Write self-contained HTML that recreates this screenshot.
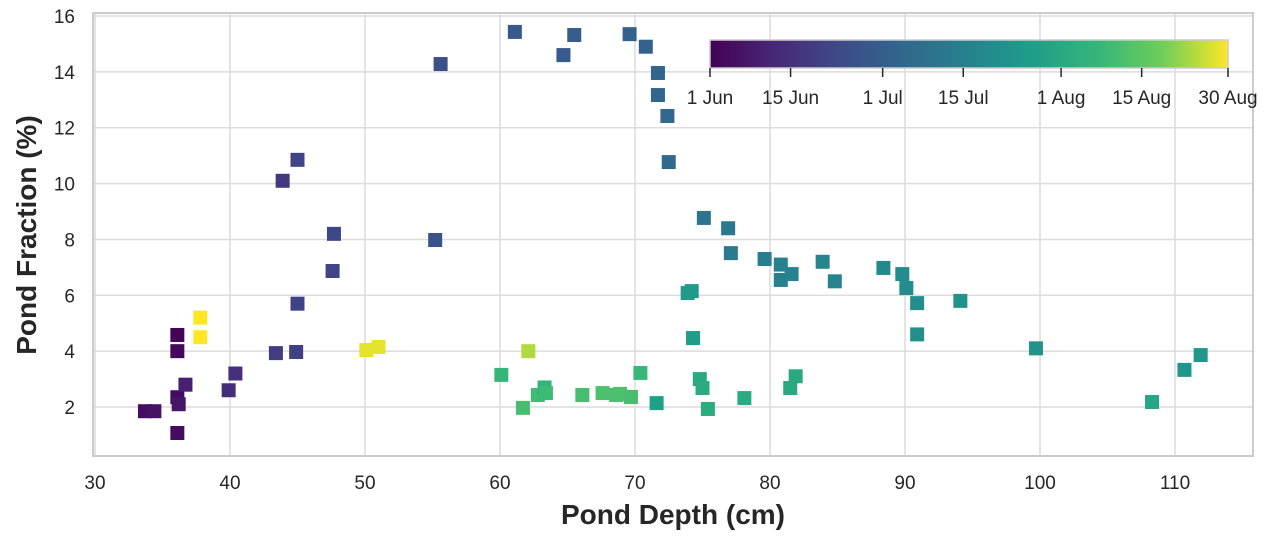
<!DOCTYPE html>
<html><head><meta charset="utf-8"><style>
body{margin:0;background:#fff}
svg{font-family:"Liberation Sans",Arial,sans-serif;display:block}
</style></head><body>
<svg id="chart" width="1275" height="538" xmlns="http://www.w3.org/2000/svg">
<defs><linearGradient id="vir" x1="0" x2="1" y1="0" y2="0">
<stop offset="0" stop-color="#440154"/><stop offset="0.125" stop-color="#482878"/><stop offset="0.25" stop-color="#3e4a89"/><stop offset="0.375" stop-color="#31688e"/><stop offset="0.5" stop-color="#26828e"/><stop offset="0.625" stop-color="#1f9e89"/><stop offset="0.75" stop-color="#35b779"/><stop offset="0.875" stop-color="#6ece58"/><stop offset="1" stop-color="#fde725"/></linearGradient></defs>
<g id="grid"></g><g id="pts"></g><g id="axes"></g>
</svg>
<script>
const depth=[33.7,34.4,36.1,36.1,36.1,36.1,36.2,36.7,39.9,40.4,43.4,44.9,45.0,43.9,45.0,47.6,47.7,55.2,55.6,61.1,64.7,65.5,69.6,70.8,71.7,71.7,72.4,72.5,75.1,76.9,77.1,79.6,80.8,80.8,81.6,83.9,84.8,88.4,89.8,90.1,90.9,90.9,94.1,99.7,73.9,74.2,74.3,110.7,111.9,108.3,74.8,75.0,75.4,78.1,81.9,81.5,71.6,60.1,61.7,62.8,63.3,63.4,66.1,67.6,68.6,68.9,69.7,70.4,62.1,50.1,51.0,37.8,37.8];
const fraction=[1.85,1.85,4.58,4.0,1.07,2.35,2.1,2.8,2.6,3.2,3.93,3.97,5.7,10.1,10.85,6.87,8.2,7.98,14.28,15.43,14.6,15.32,15.35,14.9,13.96,13.17,12.42,10.77,8.77,8.4,7.51,7.3,7.1,6.55,6.76,7.2,6.5,6.98,6.76,6.26,5.72,4.6,5.8,4.1,6.08,6.15,4.47,3.33,3.86,2.18,3.0,2.68,1.93,2.32,3.1,2.68,2.14,3.15,1.97,2.43,2.7,2.5,2.43,2.5,2.43,2.47,2.36,3.22,4.0,4.04,4.15,5.2,4.5];
const dayIndex=[4,5,1,2,3,3,6,9,13,14,18,19,20,17,21,21,22,26,25,28,29,30,31,32,33,33,34,34,40,41,42,43,44,44,45,46,46,48,49,49,50,50,52,52,55,55,56,53,53,60,61,62,63,62,61,61,57,67,71,70,66,69,71,72,72,72,71,68,84,88,88,90,90];
const xTicks=[30,40,50,60,70,80,90,100,110];
const yTicks=[2,4,6,8,10,12,14,16];
const cbLabels=["1 Jun","15 Jun","1 Jul","15 Jul","1 Aug","15 Aug","30 Aug"];
const cbDays=[0,14,30,44,61,75,90];
const X=v=>95+(v-30)*13.5, Y=v=>16+(16-v)*27.93;
const vs=[[68,1,84],[72,40,120],[62,74,137],[49,104,142],[38,130,142],[31,158,137],[53,183,121],[110,206,88],[253,231,37]];
function vir(t){t=Math.max(0,Math.min(1,t))*(vs.length-1);const i=Math.min(Math.floor(t),vs.length-2),f=t-i;const c=vs[i].map((a,k)=>Math.round(a+(vs[i+1][k]-a)*f));return `rgb(${c})`;}
const NS="http://www.w3.org/2000/svg";
function mk(p,tag,at,txt){const e=document.createElementNS(NS,tag);for(const k in at)e.setAttribute(k,at[k]);if(txt!==undefined)e.textContent=txt;p.appendChild(e);return e;}
const g=document.getElementById('grid'),pg=document.getElementById('pts'),ax=document.getElementById('axes');
const L=93,R=1253,T=13,B=456;
xTicks.forEach(v=>{const l=mk(g,'line',{x1:X(v),x2:X(v),y1:T,y2:B,stroke:'#dcdcdc','stroke-width':1.5});


const t=mk(ax,'text',{x:X(v),y:489,'text-anchor':'middle','font-size':19,fill:'#262626'},v);

});
yTicks.forEach(v=>{const l=mk(g,'line',{x1:L,x2:R,y1:Y(v),y2:Y(v),stroke:'#dcdcdc','stroke-width':1.5});


const t=mk(ax,'text',{x:75,y:Y(v)+7,'text-anchor':'end','font-size':19,fill:'#262626'},v);

});
depth.forEach((d,i)=>{const r=mk(pg,'rect',{x:X(d)-7,y:Y(fraction[i])-7,width:14,height:14,fill:vir(dayIndex[i]/90)});

});
const fr=mk(ax,'rect',{x:L,y:T,width:R-L,height:B-T,fill:'none',stroke:'#cccccc','stroke-width':2});


const xt=mk(ax,'text',{x:673,y:524,'text-anchor':'middle','font-size':28,'font-weight':'bold',fill:'#262626'},'Pond Depth (cm)');


const yt=mk(ax,'text',{x:0,y:0,transform:'translate(36,235) rotate(-90)','text-anchor':'middle','font-size':28,'font-weight':'bold',fill:'#262626'},'Pond Fraction (%)');


const cb=mk(ax,'rect',{x:710,y:40,width:518,height:28,fill:'url(#vir)',stroke:'#cccccc','stroke-width':1.5});


cbDays.forEach((d,i)=>{const x=710+d*518/90;mk(ax,'line',{x1:x,x2:x,y1:68,y2:77,stroke:'#262626','stroke-width':1.5});
const t=mk(ax,'text',{x:x,y:104,'text-anchor':'middle','font-size':19,fill:'#262626'},cbLabels[i]);

});
</script>
</body></html>
